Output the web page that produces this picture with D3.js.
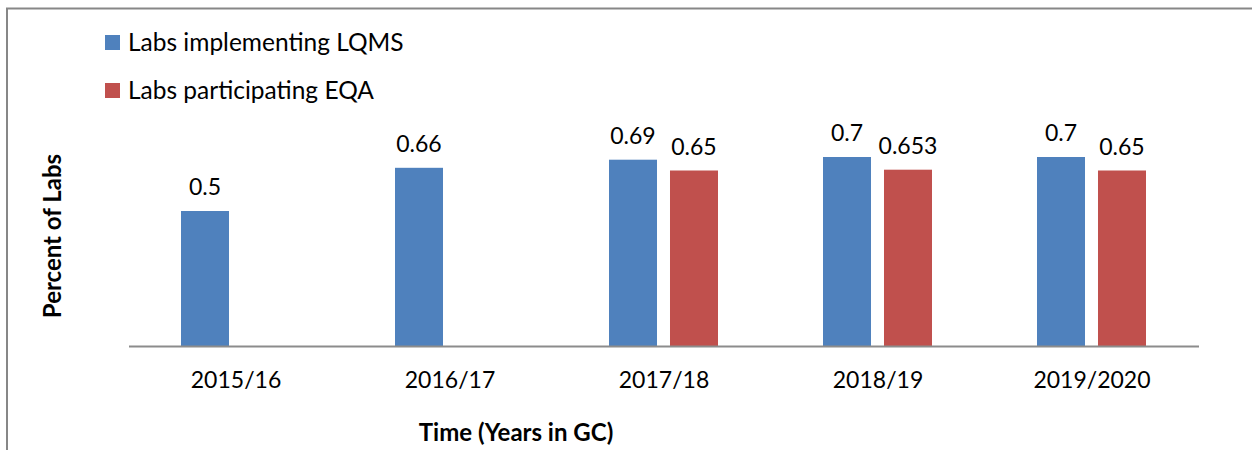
<!DOCTYPE html>
<html><head><meta charset="utf-8">
<script src="https://cdn.jsdelivr.net/npm/d3@7"></script>
<style>body{margin:0;background:#fff}svg{display:block}text{font-family:Lato,"Liberation Sans",sans-serif}</style>
</head><body>
<script>
const categories = ["2015/16","2016/17","2017/18","2018/19","2019/2020"];
const lqms = [0.5, 0.66, 0.69, 0.7, 0.7];
const eqa = [null, null, 0.65, 0.653, 0.65];
const lqmsLabels = ["0.5","0.66","0.69","0.7","0.7"];
const eqaLabels = [null, null, "0.65","0.653","0.65"];
const seriesNames = ["Labs implementing LQMS","Labs participating EQA"];
const colors = ["#4F81BD","#C0504D"];

const W=1252,H=450;
const svg=d3.select("body").append("svg").attr("width",W).attr("height",H);
// outer border
svg.append("rect").attr("x",7).attr("y",8.5).attr("width",1260).attr("height",460)
  .attr("fill","none").attr("stroke","#878787").attr("stroke-width",2);

const x=d3.scaleBand().domain(categories).range([129,1199]).paddingInner(0).paddingOuter(0);
const y=d3.scaleLinear().domain([0,0.8]).range([346,130]);
const sub=d3.scaleBand().domain([0,1]).range([-55,54]).paddingInner(0.213);

const g=svg.append("g");
const series=[lqms,eqa];
const labels=[lqmsLabels,eqaLabels];
series.forEach((vals,si)=>{
  categories.forEach((c,i)=>{
    const v=vals[i]; if(v==null) return;
    const cx=x(c)+x.bandwidth()/2;
    const bx=cx+sub(si);
    g.append("rect").attr("x",bx).attr("y",y(v)).attr("width",sub.bandwidth()).attr("height",y(0)-y(v))
      .attr("fill",colors[si]);
    g.append("text").attr("x",bx+sub.bandwidth()/2).attr("y",y(v)-16).attr("text-anchor","middle")
      .attr("font-size",23).attr("fill","#000").text(labels[si][i]);
  });
});
// baseline
svg.append("line").attr("x1",129).attr("x2",1199).attr("y1",346.5).attr("y2",346.5).attr("stroke","#8C8C8C").attr("stroke-width",2);
// category labels
categories.forEach(c=>{
  svg.append("text").attr("x",x(c)+x.bandwidth()/2).attr("y",388).attr("text-anchor","middle")
    .attr("font-size",23).attr("fill","#000").text(c);
});
// axis titles
svg.append("text").attr("x",516).attr("y",441).attr("text-anchor","middle").attr("font-size",24).attr("font-weight","bold").text("Time (Years in GC)");
svg.append("text").attr("transform","translate(61,236) rotate(-90)").attr("text-anchor","middle").attr("font-size",24).attr("font-weight","bold").text("Percent of Labs");
// legend
seriesNames.forEach((n,i)=>{
  const ly=35+i*48;
  svg.append("rect").attr("x",105).attr("y",ly).attr("width",15).attr("height",15).attr("fill",colors[i]);
  svg.append("text").attr("x",128).attr("y",ly+16).attr("font-size",24.5).attr("fill","#000").text(n);
});
</script>
</body></html>
